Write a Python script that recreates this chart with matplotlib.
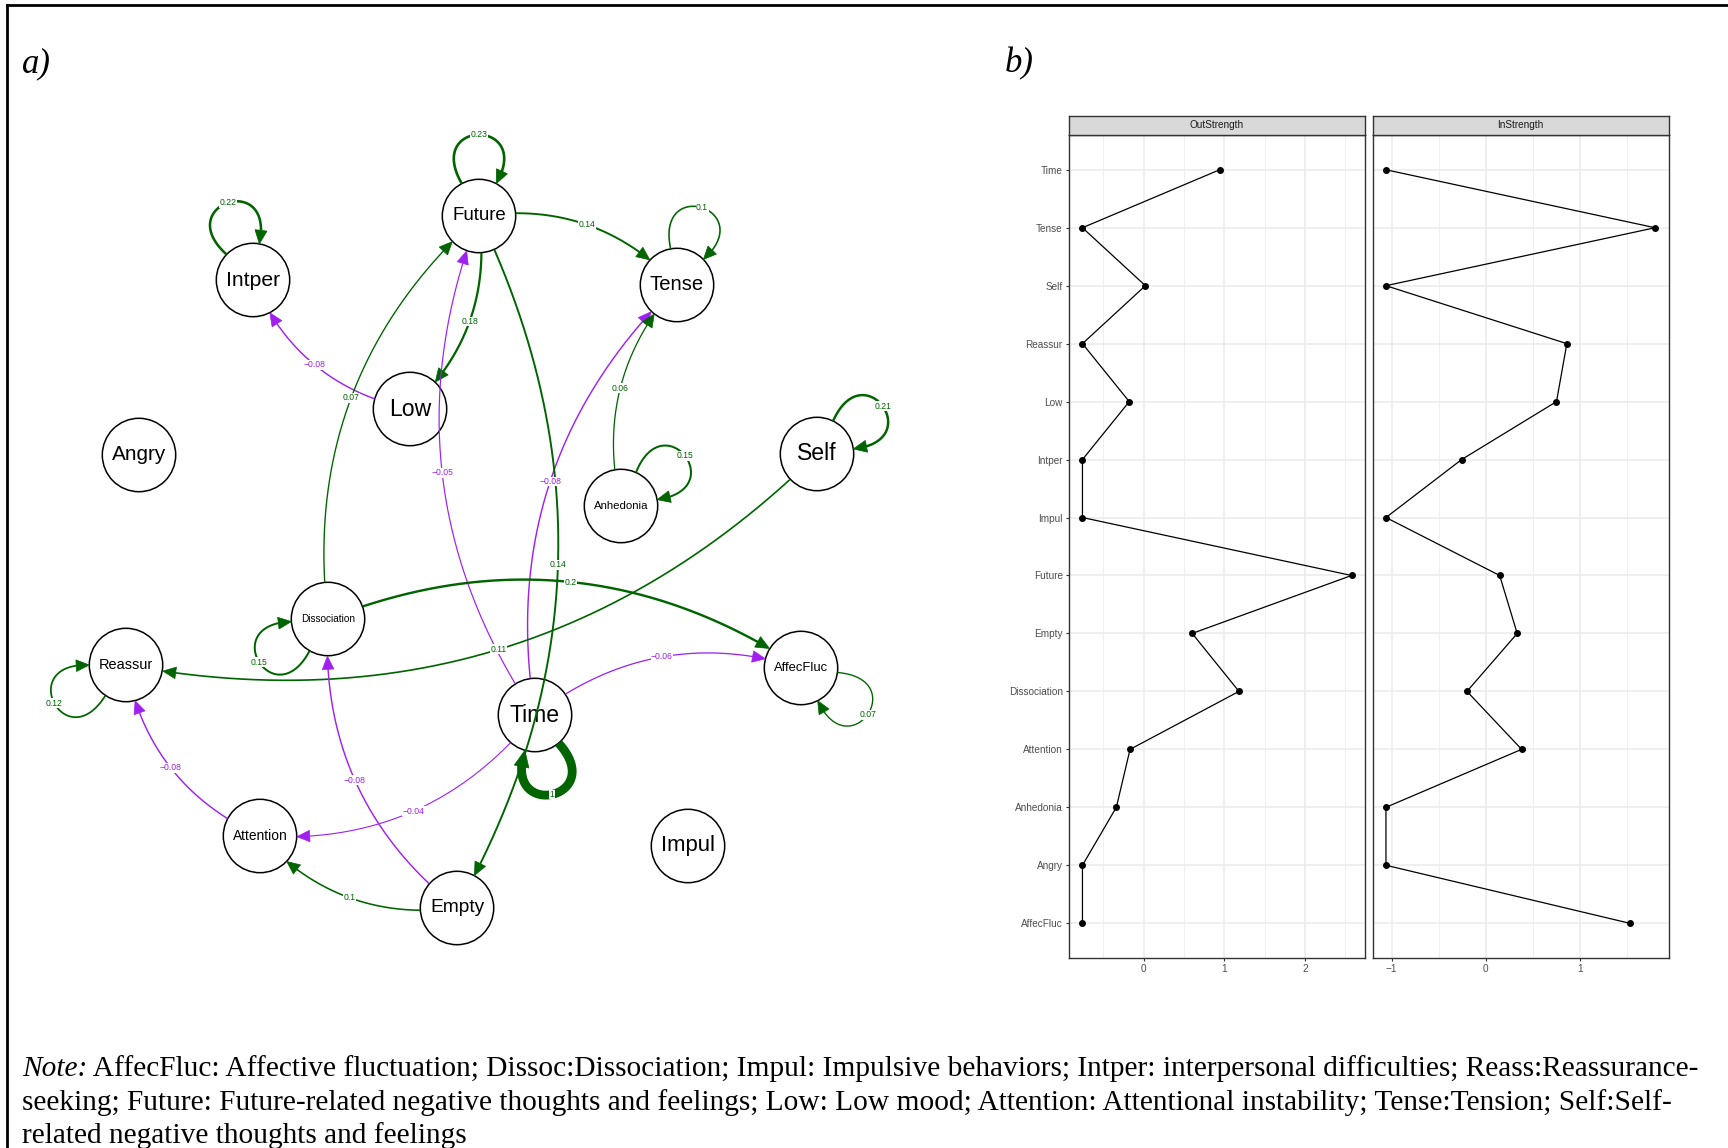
import numpy as np
import matplotlib.pyplot as plt
from matplotlib.patches import Circle, Polygon
from matplotlib.lines import Line2D

W, H = 1728, 1148
POS_COL = '#006400'
NEG_COL = '#A020F0'

# ---- network (a) ----
nodes = ['Future', 'Intper', 'Tense', 'Low', 'Angry', 'Self', 'Anhedonia',
         'Dissociation', 'Reassur', 'Time', 'AffecFluc', 'Attention', 'Impul', 'Empty']
# layout (pixels, y down)
node_x = [479, 253, 677, 410, 139, 817, 621, 328, 126, 535, 801, 260, 688, 457]
node_y = [216, 280, 285, 409, 455, 454, 506, 619, 665, 715, 668, 836, 846, 908]

edge_from = ['Future', 'Future', 'Low', 'Dissociation', 'Time', 'Time', 'Anhedonia',
             'Future', 'Dissociation', 'Self', 'Time', 'Time', 'Empty', 'Attention', 'Empty']
edge_to = ['Tense', 'Low', 'Intper', 'Future', 'Future', 'Tense', 'Tense',
           'Empty', 'AffecFluc', 'Reassur', 'AffecFluc', 'Attention', 'Dissociation',
           'Reassur', 'Attention']
edge_w = [0.14, 0.18, -0.08, 0.07, -0.05, -0.08, 0.06,
          0.14, 0.2, 0.11, -0.06, -0.04, -0.08, -0.08, 0.1]

# autoregressive (self-loop) effects
loop_node = ['Future', 'Intper', 'Tense', 'Anhedonia', 'Self', 'Dissociation',
             'Reassur', 'AffecFluc', 'Time']
loop_w = [0.23, 0.22, 0.1, 0.15, 0.21, 0.15, 0.12, 0.07, 1]
loop_dir = [-90, -108, -72, -38, -36, 148, 152, 35, 78]  # degrees, screen coords

# ---- centrality (b) ----
cats = ['AffecFluc', 'Angry', 'Anhedonia', 'Attention', 'Dissociation', 'Empty', 'Future',
        'Impul', 'Intper', 'Low', 'Reassur', 'Self', 'Tense', 'Time']
out_strength = [-0.76, -0.76, -0.34, -0.17, 1.18, 0.60, 2.575,
                -0.76, -0.76, -0.18, -0.76, 0.02, -0.76, 0.94]
in_strength = [1.525, -1.06, -1.06, 0.38, -0.20, 0.333, 0.147,
               -1.06, -0.257, 0.75, 0.86, -1.06, 1.796, -1.06]

note_lines = [
    'AffecFluc: Affective fluctuation; Dissoc:Dissociation; Impul: Impulsive behaviors; '
    'Intper: interpersonal difficulties; Reass:Reassurance-',
    'seeking; Future: Future-related negative thoughts and feelings; Low: Low mood; '
    'Attention: Attentional instability; Tense:Tension; Self:Self-',
    'related negative thoughts and feelings',
]

R = 36.7
CURVE = -0.13

fig = plt.figure(figsize=(W / 100, H / 100), dpi=100)
net = fig.add_axes([0, 0, 1, 1])
net.set_xlim(0, W)
net.set_ylim(H, 0)
net.axis('off')
renderer = fig.canvas.get_renderer()

pos = {n: np.array([x, y], float) for n, x, y in zip(nodes, node_x, node_y)}


def fmt(w):
    return f'{w:g}'.replace('-', '\u2212')


def draw_edge(pts, w, label_xy):
    col = POS_COL if w > 0 else NEG_COL
    lw_px = 0.8 + 8 * abs(w)
    tip = pts[-1]
    h = 12.5 + 4 * abs(w)
    dist = np.hypot(*(pts - tip).T)
    idx = np.where(dist >= h)[0][-1]
    base = pts[idx]
    u = (tip - base) / np.hypot(*(tip - base))
    perp = np.array([-u[1], u[0]])
    line = np.vstack([pts[:idx + 1], base + 0.3 * h * u])
    net.plot(line[:, 0], line[:, 1], color=col, lw=lw_px * 0.72,
             solid_capstyle='butt', zorder=2)
    hw = 0.45 * h
    net.add_patch(Polygon([tip, base + hw * perp, base - hw * perp],
                          closed=True, fc=col, ec=col, lw=0.5, zorder=2))
    net.text(label_xy[0], label_xy[1], fmt(w), fontsize=6.2, color=col,
             ha='center', va='center', family='Liberation Sans', zorder=4,
             bbox=dict(boxstyle='square,pad=0.05', fc='white', ec='none'))


# nodes
for n in nodes:
    net.add_patch(Circle(pos[n], R, fc='white', ec='black', lw=1.1, zorder=1))
    t = net.text(pos[n][0], pos[n][1], n, fontsize=16.6, ha='center', va='center',
                 family='Liberation Sans', color='black', zorder=1.5)
    bw = t.get_window_extent(renderer).width
    if bw > 54:
        t.set_fontsize(16.6 * 54 / bw)

# curved edges
tt = np.linspace(0, 1, 800)[:, None]
for a, b, w in zip(edge_from, edge_to, edge_w):
    P, Q = pos[a], pos[b]
    d = Q - P
    L = np.hypot(*d)
    nrm = np.array([-d[1], d[0]]) / L
    C = (P + Q) / 2 + 2 * CURVE * L * nrm
    pts = (1 - tt) ** 2 * P + 2 * (1 - tt) * tt * C + tt ** 2 * Q
    keep = (np.hypot(*(pts - P).T) >= R) & (np.hypot(*(pts - Q).T) >= R)
    draw_edge(pts[keep], w, 0.25 * P + 0.5 * C + 0.25 * Q)

# self loops
al, ga = np.radians(28), np.radians(30)
Lc = 2.05 * R
for n, w, ang in zip(loop_node, loop_w, loop_dir):
    c = pos[n]
    phi = np.radians(ang)
    A = c + R * np.array([np.cos(phi - al), np.sin(phi - al)])
    B = c + R * np.array([np.cos(phi + al), np.sin(phi + al)])
    C1 = A + Lc * np.array([np.cos(phi - ga), np.sin(phi - ga)])
    C2 = B + Lc * np.array([np.cos(phi + ga), np.sin(phi + ga)])
    pts = ((1 - tt) ** 3 * A + 3 * (1 - tt) ** 2 * tt * C1
           + 3 * (1 - tt) * tt ** 2 * C2 + tt ** 3 * B)
    mid = (A + 3 * C1 + 3 * C2 + B) / 8
    draw_edge(pts, w, mid)

# panel letters
net.text(22, 72, 'a)', family='Liberation Serif', style='italic', fontsize=25,
         va='baseline', ha='left')
net.text(1005, 72, 'b)', family='Liberation Serif', style='italic', fontsize=25,
         va='baseline', ha='left')

# note
note_size = 21.2
note_y = [1076, 1109.5, 1143]
nt = net.text(22, note_y[0], 'Note:', family='Liberation Serif', style='italic',
              fontsize=note_size, va='baseline', ha='left')
x1 = nt.get_window_extent(renderer).x1
net.text(x1, note_y[0], ' ' + note_lines[0], family='Liberation Serif',
         fontsize=note_size, va='baseline', ha='left')
for y, line in zip(note_y[1:], note_lines[1:]):
    net.text(22, y, line, family='Liberation Serif', fontsize=note_size,
             va='baseline', ha='left')

# frame lines
fig.add_artist(Line2D([7 / W, 7 / W], [0, 1 - 4.5 / H], transform=fig.transFigure,
                      color='black', lw=2))
fig.add_artist(Line2D([7 / W, 1], [1 - 4.5 / H, 1 - 4.5 / H], transform=fig.transFigure,
                      color='black', lw=2))

# ---- centrality facets ----
ypos = np.arange(1, len(cats) + 1)
panel_b, panel_h = 1 - 958 / H, 823 / H
strip_h = 19 / H
facets = [('OutStrength', out_strength, 1069, [0, 1, 2], [-0.5, 0.5, 1.5, 2.5]),
          ('InStrength', in_strength, 1372.5, [-1, 0, 1], [-0.5, 0.5, 1.5])]
for i, (title, vals, x0, majors, minors) in enumerate(facets):
    ax = fig.add_axes([x0 / W, panel_b, 296 / W, panel_h])
    ax.plot(vals, ypos, color='black', lw=0.9, marker='o', ms=4, zorder=3)
    lo, hi = min(vals), max(vals)
    pad = 0.05 * (hi - lo)
    ax.set_xlim(lo - pad, hi + pad)
    ax.set_ylim(0.4, len(cats) + 0.6)
    ax.set_xticks(majors)
    ax.set_xticks(minors, minor=True)
    ax.set_yticks(ypos)
    ax.set_yticklabels(cats)
    ax.grid(which='major', color='#EBEBEB', lw=1.1, zorder=0)
    ax.grid(which='minor', axis='x', color='#EBEBEB', lw=0.55, zorder=0)
    ax.set_axisbelow(True)
    ax.tick_params(which='minor', length=0)
    ax.tick_params(which='major', length=2.5, width=0.8, color='#333333',
                   labelsize=7.2, labelcolor='#4D4D4D', pad=2)
    for lab in ax.get_xticklabels() + ax.get_yticklabels():
        lab.set_family('Liberation Sans')
    if i > 0:
        ax.tick_params(axis='y', left=False, labelleft=False)
    for s in ax.spines.values():
        s.set_color('#333333')
        s.set_linewidth(1.0)

    strip = fig.add_axes([x0 / W, panel_b + panel_h, 296 / W, strip_h])
    strip.set_facecolor('#D9D9D9')
    strip.set_xticks([])
    strip.set_yticks([])
    for s in strip.spines.values():
        s.set_color('#333333')
        s.set_linewidth(1.0)
    strip.text(0.5, 0.5, title, transform=strip.transAxes, ha='center', va='center',
               fontsize=7.2, color='#1A1A1A', family='Liberation Sans')

fig.savefig('out.png', dpi=100)
